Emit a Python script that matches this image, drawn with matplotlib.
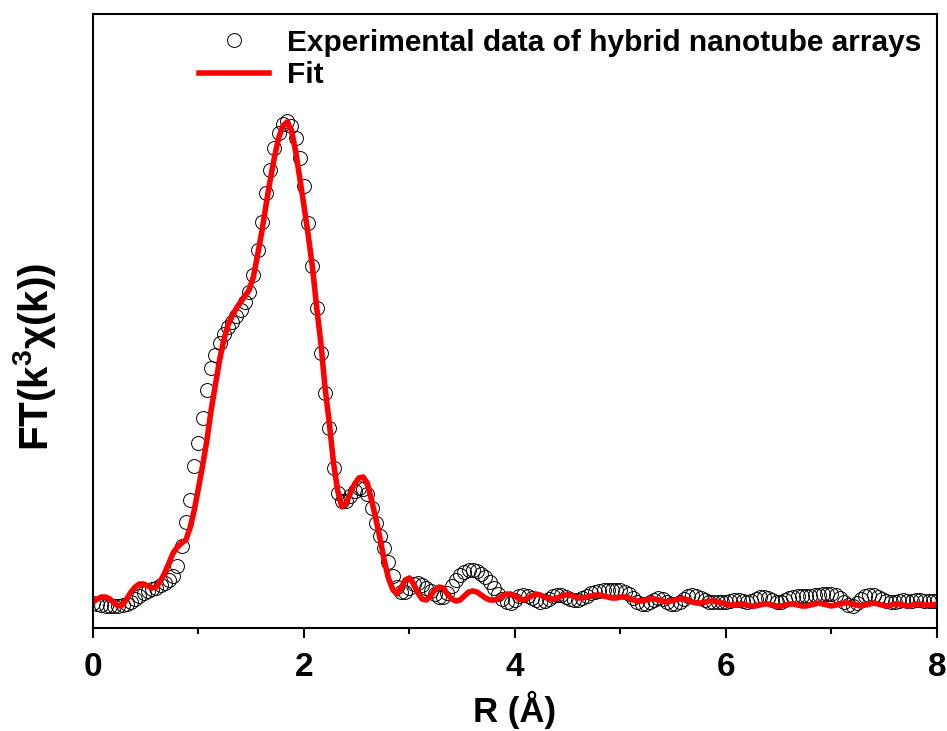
import numpy as np
import matplotlib
matplotlib.use("Agg")
import matplotlib.pyplot as plt
from matplotlib.ticker import MultipleLocator

plt.rcParams["font.family"] = ["Liberation Sans", "DejaVu Sans"]
plt.rcParams["mathtext.fontset"] = "custom"
plt.rcParams["mathtext.bf"] = "Liberation Sans:bold"
plt.rcParams["mathtext.rm"] = "Liberation Sans"

# R grid (Angstrom), step 0.04
r_start, r_step, n_pts = 0.0, 0.04, 201

# FT magnitude, arbitrary units
exp_ft = [
    25, 24, 23, 22, 22, 22, 22, 23, 24, 26,
    29, 32, 35, 37, 39, 40, 43, 45, 48, 52,
    62, 82, 106, 128, 162, 185, 210, 238, 260, 273,
    285, 294, 301, 306, 312, 318, 326, 336, 353, 378,
    406, 435, 458, 480, 495, 504, 507, 502, 490, 470,
    442, 405, 362, 320, 275, 235, 200, 160, 135, 127,
    127, 132, 137, 140, 139, 134, 120, 105, 92, 80,
    66, 52, 41, 36, 36, 40, 44, 45, 43, 40,
    37, 34, 31, 31, 35, 42, 48, 53, 56, 58,
    58, 57, 54, 51, 46, 40, 34, 29, 26, 25,
    28, 32, 33, 32, 30, 28, 26, 27, 29, 32,
    33, 33, 31, 29, 28, 28, 30, 32, 35, 36,
    37, 38, 38, 38, 38, 38, 36, 34, 30, 26,
    24, 24, 26, 28, 30, 29, 26, 24, 24, 26,
    29, 32, 33, 32, 30, 28, 26, 26, 26, 26,
    26, 27, 28, 28, 27, 26, 27, 29, 31, 31,
    30, 28, 26, 26, 28, 30, 31, 32, 32, 32,
    32, 33, 33, 34, 34, 34, 33, 30, 26, 23,
    22, 25, 29, 32, 33, 33, 31, 29, 27, 26,
    26, 27, 28, 27, 27, 28, 28, 27, 27, 27,
    27,
]

fit_ft = [
    26, 29, 31, 31, 29, 25, 22, 23, 29, 36,
    41, 44, 44, 42, 40, 41, 47, 55, 65, 75,
    81, 85, 88, 100, 118, 140, 163, 188, 218, 243,
    268, 288, 303, 312, 320, 326, 332, 338, 351, 373,
    396, 423, 448, 471, 490, 502, 506, 498, 477, 450,
    422, 393, 361, 321, 285, 240, 205, 165, 137, 121,
    125, 135, 144, 150, 151, 145, 128, 110, 90, 68,
    50, 39, 34, 40, 48, 50, 44, 35, 29, 28,
    32, 38, 41, 40, 34, 29, 27, 28, 32, 36,
    37, 36, 33, 30, 28, 28, 29, 32, 34, 34,
    32, 29, 28, 30, 32, 34, 33, 31, 29, 29,
    30, 32, 33, 33, 32, 30, 30, 31, 32, 33,
    33, 32, 31, 30, 30, 31, 31, 30, 28, 27,
    27, 28, 29, 29, 28, 27, 26, 27, 28, 29,
    29, 28, 26, 25, 25, 26, 27, 27, 26, 25,
    24, 23, 23, 24, 24, 23, 22, 22, 23, 24,
    24, 23, 22, 22, 23, 24, 24, 23, 22, 22,
    23, 24, 25, 24, 23, 22, 23, 24, 25, 25,
    24, 23, 22, 23, 24, 25, 24, 23, 22, 23,
    24, 24, 23, 22, 23, 24, 24, 23, 23, 23,
    24,
]

r = r_start + r_step * np.arange(n_pts)

fig = plt.figure(figsize=(9.47, 7.31), dpi=100)
ax = fig.add_axes([0.0982, 0.1409, 0.8912, 0.8400])

ax.plot(r, exp_ft, "o", markersize=10, markerfacecolor="none",
        markeredgecolor="black", markeredgewidth=0.7,
        label="Experimental data of hybrid nanotube arrays")
ax.plot(r, fit_ft, color="#ff0000", linewidth=4, label="Fit")

ax.set_xlim(0, 8)
ax.set_ylim(0, 614)

ax.xaxis.set_major_locator(MultipleLocator(2))
ax.xaxis.set_minor_locator(MultipleLocator(1))
ax.tick_params(axis="x", which="major", direction="out", length=7, width=1.5,
               labelsize=24, pad=10)
ax.tick_params(axis="x", which="minor", direction="out", length=4, width=1.5)
ax.set_yticks([])
for lab in ax.get_xticklabels():
    lab.set_fontweight("bold")

for s in ax.spines.values():
    s.set_linewidth(1.5)

ax.set_xlabel("R (Å)", fontsize=25, fontweight="bold", labelpad=6)
ax.set_ylabel(r"FT(k$^\mathbf{3}$χ(k))", fontsize=29, fontweight="bold")
ax.yaxis.set_label_coords(-0.042, 0.441)

leg = ax.legend(loc="upper right", frameon=False,
                prop={"weight": "bold", "size": 21.5},
                handlelength=2.35, handletextpad=0.6, labelspacing=0.15,
                borderaxespad=0.1, bbox_to_anchor=(0.999, 1.0))

fig.savefig("out.png", dpi=100)
